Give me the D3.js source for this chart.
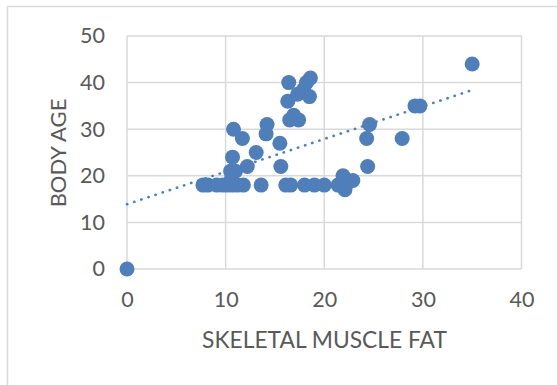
<!DOCTYPE html>
<html>
<head>
<meta charset="utf-8">
<script src="https://cdn.jsdelivr.net/npm/d3@7/dist/d3.min.js"></script>
<style>
  html, body { margin: 0; padding: 0; background: #fff; }
  svg { display: block; }
  text { font-family: Lato, "Open Sans", sans-serif; fill: #595959; }
</style>
</head>
<body>
<svg id="chart" width="557" height="385"></svg>
<script>
// Skeletal muscle fat vs. body age
const muscleFat = [0, 35, 29.2, 29.7, 24.6, 24.3, 27.9, 24.4, 21.9, 22.9, 22.1, 21.4, 22.2,
  20.0, 19.0, 18.0, 16.6, 16.1, 13.6, 11.8, 11.2, 10.7, 10.2, 9.7, 9.1, 8.2, 7.7,
  10.5, 11.0, 10.6, 12.2, 10.7, 13.1, 15.6, 15.5, 14.1, 14.2, 11.7, 10.8,
  16.5, 17.4, 16.9, 16.3, 16.4, 17.3, 17.9, 18.5, 18.2, 18.6];
const bodyAge = [0, 44, 35, 35, 31, 28, 28, 22, 20, 19, 17, 18, 18,
  18, 18, 18, 18, 18, 18, 18, 18, 18, 18, 18, 18, 18, 18,
  21, 21, 19.5, 22, 24, 25, 22, 27, 29, 31, 28, 30,
  32, 32, 33, 36, 40, 37.5, 38.5, 37, 40, 41];

// Linear trendline end points (x, y)
const trendX = [0, 35];
const trendY = [13.9, 38.4];

const xTicks = [0, 10, 20, 30, 40];
const yTicks = [0, 10, 20, 30, 40, 50];

const svg = d3.select("#chart");
const plot = { left: 127, right: 521.5, top: 36, bottom: 269 };

svg.append("rect")
  .attr("x", 7.5).attr("y", 6.5)
  .attr("width", 600).attr("height", 420)
  .attr("fill", "#fff")
  .attr("stroke", "#D9D9D9").attr("stroke-width", 1.5);

const x = d3.scaleLinear().domain([0, 40]).range([plot.left, plot.right]);
const y = d3.scaleLinear().domain([0, 50]).range([plot.bottom, plot.top]);

// Gridlines
const grid = svg.append("g");
grid.selectAll("line.h").data(yTicks).join("line")
  .attr("x1", plot.left).attr("x2", plot.right)
  .attr("y1", d => y(d)).attr("y2", d => y(d))
  .attr("stroke", "#D9D9D9").attr("stroke-width", 1.5);
grid.selectAll("line.v").data(xTicks).join("line")
  .attr("y1", plot.top).attr("y2", plot.bottom)
  .attr("x1", d => x(d)).attr("x2", d => x(d))
  .attr("stroke", "#D9D9D9").attr("stroke-width", 1.5);

// Axes (labels only)
const xAxis = d3.axisBottom(x).tickValues(xTicks).tickSize(0).tickPadding(23);
const yAxis = d3.axisLeft(y).tickValues(yTicks).tickSize(0).tickPadding(22);
const gx = svg.append("g").attr("transform", `translate(0,${plot.bottom})`).call(xAxis);
const gy = svg.append("g").attr("transform", `translate(${plot.left},0)`).call(yAxis);
[gx, gy].forEach(g => {
  g.select(".domain").remove();
  g.selectAll("text").style("font-size", "21.5px").attr("fill", "#595959");
});

// Points
const color = "#4E7FBB";
svg.append("g").selectAll("circle")
  .data(muscleFat.map((v, i) => [v, bodyAge[i]]))
  .join("circle")
  .attr("cx", d => x(d[0])).attr("cy", d => y(d[1]))
  .attr("r", 7.5).attr("fill", color);

// Trendline (round-dot)
svg.append("line")
  .attr("x1", x(trendX[0])).attr("y1", y(trendY[0]))
  .attr("x2", x(trendX[1])).attr("y2", y(trendY[1]))
  .attr("stroke", color).attr("stroke-width", 2.6)
  .attr("stroke-linecap", "round")
  .attr("stroke-dasharray", "0.3 7.2");

// Axis titles
svg.append("text")
  .attr("x", 324.5).attr("y", 348)
  .attr("text-anchor", "middle")
  .style("font-size", "22.8px")
  .text("SKELETAL MUSCLE FAT");
svg.append("text")
  .attr("transform", "translate(66,153) rotate(-90)")
  .attr("text-anchor", "middle")
  .style("font-size", "22px")
  .text("BODY AGE");
</script>
</body>
</html>
